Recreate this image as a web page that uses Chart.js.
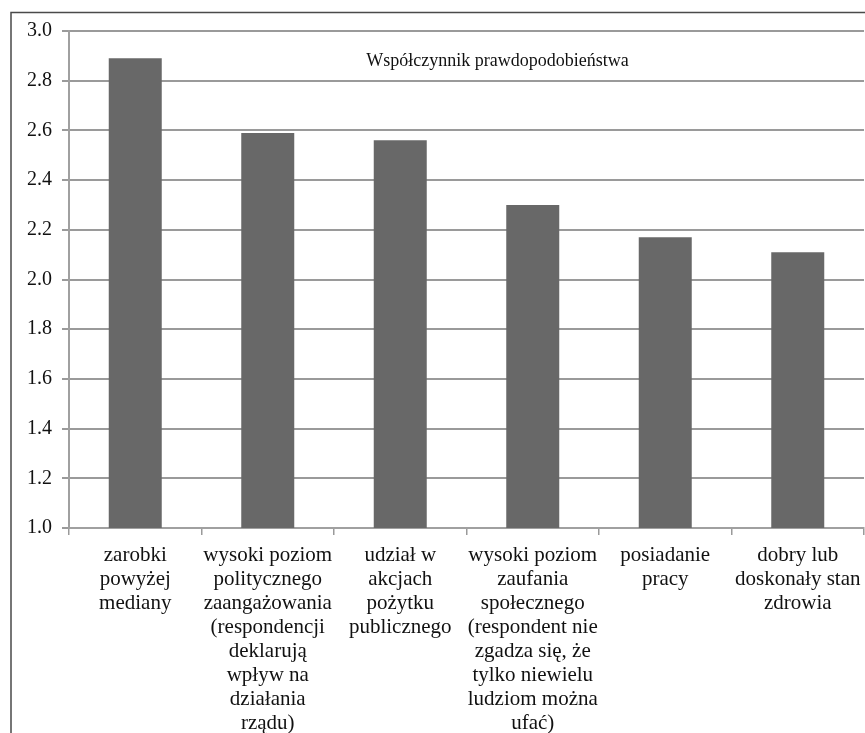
<!DOCTYPE html>
<html>
<head>
<meta charset="utf-8">
<script src="https://cdn.jsdelivr.net/npm/chart.js@4/dist/chart.umd.min.js"></script>
<style>
  html, body { margin: 0; padding: 0; background: #ffffff; }
  #wrap { position: relative; width: 865px; height: 733px; overflow: hidden; }
  canvas { display: block; }
</style>
</head>
<body>
<div id="wrap"><canvas id="c" width="865" height="733"></canvas></div>
<script>
// Categories, each as the lines of its axis label
const categories = [
  ["zarobki", "powyżej", "mediany"],
  ["wysoki poziom", "politycznego", "zaangażowania", "(respondencji", "deklarują", "wpływ na", "działania", "rządu)"],
  ["udział w", "akcjach", "pożytku", "publicznego"],
  ["wysoki poziom", "zaufania", "społecznego", "(respondent nie", "zgadza się, że", "tylko niewielu", "ludziom można", "ufać)"],
  ["posiadanie", "pracy"],
  ["dobry lub", "doskonały stan", "zdrowia"]
];
const seriesName = "Współczynnik prawdopodobieństwa";
const oddsRatio = [2.89, 2.59, 2.56, 2.30, 2.17, 2.11];
const yTicks = [1.0, 1.2, 1.4, 1.6, 1.8, 2.0, 2.2, 2.4, 2.6, 2.8, 3.0];

const SERIF = "'Liberation Serif', 'Times New Roman', serif";

// Outer frame of the figure and the series caption inside the plot
const decor = {
  id: 'decor',
  beforeDraw(chart) {
    const ctx = chart.ctx;
    ctx.save();
    ctx.fillStyle = '#ffffff';
    ctx.fillRect(0, 0, chart.width, chart.height);
    ctx.strokeStyle = '#4a4a4a';
    ctx.lineWidth = 1.5;
    ctx.beginPath();
    ctx.moveTo(11, chart.height + 2);
    ctx.lineTo(11, 12.5);
    ctx.lineTo(chart.width + 2, 12.5);
    ctx.stroke();
    ctx.restore();
  },
  afterDatasetsDraw(chart) {
    const ctx = chart.ctx;
    const a = chart.chartArea;
    ctx.save();
    ctx.font = '18px ' + SERIF;
    ctx.fillStyle = '#111111';
    ctx.textAlign = 'center';
    ctx.textBaseline = 'middle';
    ctx.fillText(seriesName, a.left + (a.right - a.left) * 0.539, a.top + 30);
    ctx.restore();
  }
};

new Chart(document.getElementById('c'), {
  type: 'bar',
  data: {
    labels: categories,
    datasets: [{
      label: seriesName,
      data: oddsRatio,
      backgroundColor: '#686868',
      borderWidth: 0,
      barPercentage: 0.4,
      categoryPercentage: 1.0
    }]
  },
  options: {
    responsive: false,
    animation: false,
    events: [],
    layout: { padding: { top: 31, right: 1, left: 0, bottom: 0 } },
    plugins: {
      legend: { display: false },
      tooltip: { enabled: false },
      title: { display: false }
    },
    scales: {
      x: {
        grid: {
          display: true,
          drawOnChartArea: false,
          drawTicks: true,
          tickLength: 7,
          color: '#9a9a9a',
          lineWidth: 1.5
        },
        border: { display: true, color: '#a0a0a0', width: 2 },
        ticks: {
          autoSkip: false,
          maxRotation: 0,
          minRotation: 0,
          padding: 8,
          color: '#111111',
          font: { family: SERIF, size: 21, lineHeight: 24 / 21 }
        },
        afterFit(scale) {
          scale.height = 205;
          scale.paddingLeft = 0;
          scale.paddingRight = 0;
        }
      },
      y: {
        min: 1.0,
        max: 3.0,
        afterBuildTicks(scale) { scale.ticks = yTicks.map(v => ({ value: v })); },
        grid: {
          color: '#9a9a9a',
          lineWidth: 2,
          tickLength: 7
        },
        border: { display: true, color: '#a0a0a0', width: 2 },
        ticks: {
          padding: 10,
          color: '#111111',
          font: { family: SERIF, size: 20 },
          callback: (v) => Number(v).toFixed(1)
        },
        afterFit(scale) { scale.width = 69; }
      }
    }
  },
  plugins: [decor]
});
</script>
</body>
</html>
